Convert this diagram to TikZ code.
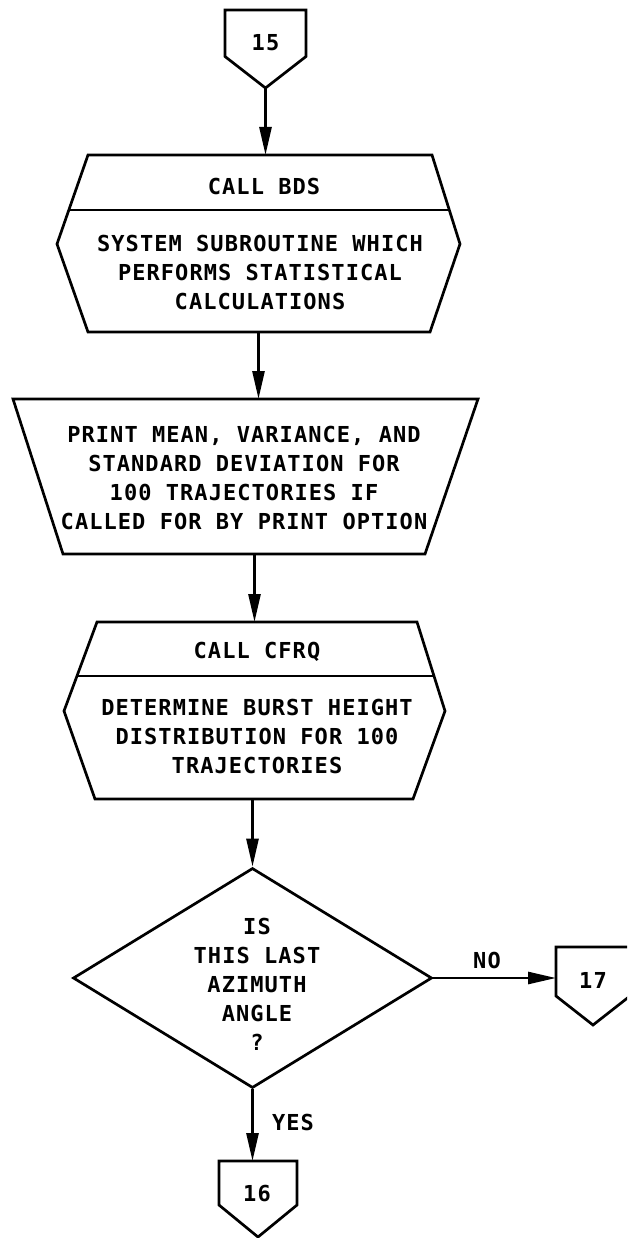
\documentclass[tikz,border=0pt]{standalone}
\usepackage{fontspec}
\usetikzlibrary{arrows.meta,shapes.geometric}
% stencil-style lettering for the flowchart labels
\newfontfamily\leroy{DejaVu Sans Mono}[LetterSpace=4.8]
\begin{document}
\begin{tikzpicture}[x=1pt,y=-1pt,
  outline/.style={draw=black,line width=2.7pt,line join=miter},
  hold/.style={inner sep=0pt,outer sep=0pt,draw=none},
  flow/.style={draw=black,line width=2.7pt,-{Triangle[length=28pt,width=12pt]}},
  lbl/.style={inner sep=0pt,align=center,font=\leroy\bfseries\fontsize{22}{29}\selectfont},
]
\useasboundingbox (0,0) rectangle (627,1238);
\clip (0,0) rectangle (627,1238);

% entry connector 15
\node[hold,minimum width=81pt,minimum height=78pt] (c15) at (265.5,49) {};
\draw[outline] (c15.north west) -- (c15.north east) -- ([yshift=-7.5pt]c15.east)
  -- (c15.south) -- ([yshift=-7.5pt]c15.west) -- cycle;
\node[lbl] (t15) at (265.5,43) {15};

% predefined process: CALL BDS
\node[hold,minimum width=403pt,minimum height=177pt] (bds) at (258.5,243.5) {};
\draw[outline] (88,155) -- (432,155) -- (460,244) -- (430,332) -- (88,332) -- (57,244) -- cycle;
\draw[outline] (69,210) -- (449,210);
\node[lbl] (bdshead) at (264,186) {CALL BDS};
\node[lbl] (bdsbody) at (260,272) {SYSTEM SUBROUTINE WHICH\\PERFORMS STATISTICAL\\CALCULATIONS};

% print step
\node[hold,minimum width=465pt,minimum height=155pt] (prt) at (245.5,476.5) {};
\draw[outline] (13,399) -- (478,399) -- (425,554) -- (63,554) -- cycle;
\node[lbl] (prttext) at (244,478) {PRINT MEAN, VARIANCE, AND\\STANDARD DEVIATION FOR\\100 TRAJECTORIES IF\\CALLED FOR BY PRINT OPTION};

% predefined process: CALL CFRQ
\node[hold,minimum width=381pt,minimum height=177pt] (cfrq) at (254.5,710.5) {};
\draw[outline] (97,622) -- (417,622) -- (445,711) -- (413,799) -- (95,799) -- (64,711) -- cycle;
\draw[outline] (77,676) -- (434,676);
\node[lbl] (cfrqhead) at (257,652) {CALL CFRQ};
\node[lbl] (cfrqbody) at (257,736) {DETERMINE BURST HEIGHT\\DISTRIBUTION FOR 100\\TRAJECTORIES};

% decision
\node[outline,diamond,minimum width=359pt,minimum height=220pt,inner sep=0pt] (dec) at (252.5,978) {};
\node[lbl] (dectext) at (257,984) {IS\\THIS LAST\\AZIMUTH\\ANGLE\\?};

% exit connector 16
\node[hold,minimum width=78pt,minimum height=76pt] (c16) at (258,1199) {};
\draw[outline] (c16.north west) -- (c16.north east) -- ([yshift=-6pt]c16.east)
  -- (c16.south) -- ([yshift=-6pt]c16.west) -- cycle;
\node[lbl] (t16) at (257,1193) {16};

% exit connector 17
\node[hold,minimum width=74pt,minimum height=78pt] (c17) at (593,986) {};
\draw[outline] (c17.north west) -- (c17.north east) -- ([yshift=-10pt]c17.east)
  -- (c17.south) -- ([yshift=-10pt]c17.west) -- cycle;
\node[lbl] (t17) at (593,980) {17};

% flow lines
\draw[flow] (c15.south) -- (c15.south |- bds.north);
\draw[flow] (bds.south) -- (bds.south |- prt.north);
\draw[flow] (cfrq.north |- prt.south) -- (cfrq.north);
\draw[flow] (dec.north |- cfrq.south) -- (dec.north);
\draw[flow] (dec.south) -- (dec.south |- c16.north);
\draw[flow] (dec.east) -- (dec.east -| c17.west);
\node[lbl] (no) at (487,960) {NO};
\node[lbl] (yes) at (293,1122) {YES};
\end{tikzpicture}
\end{document}
